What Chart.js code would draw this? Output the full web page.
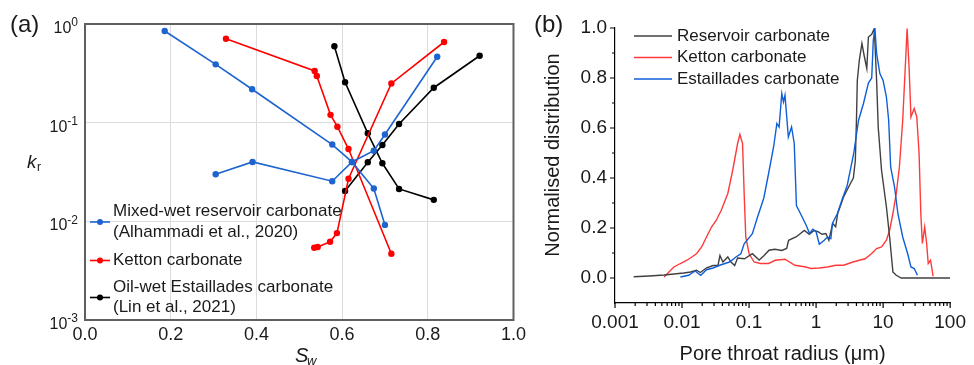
<!DOCTYPE html>
<html><head><meta charset="utf-8">
<script src="https://cdn.jsdelivr.net/npm/chart.js@4.4.0/dist/chart.umd.min.js"></script>
<style>
html,body{margin:0;padding:0;background:#fff;}
#wrap{position:relative;width:974px;height:365px;overflow:hidden;background:#fff;}
#ca{position:absolute;left:0;top:0;}
#cb{position:absolute;left:530px;top:0;}
</style></head><body>
<div id="wrap"><canvas id="ca" width="530" height="365"></canvas><canvas id="cb" width="444" height="365"></canvas></div>
<script>
// ---------------- Panel (a): relative permeability ----------------
const swMixedDrain = [0.186, 0.305, 0.390, 0.577, 0.623, 0.674, 0.700];
const krMixedDrain = [0.85, 0.39, 0.218, 0.060, 0.040, 0.0215, 0.0092];
const swMixedImb   = [0.305, 0.391, 0.577, 0.623, 0.674, 0.700, 0.822];
const krMixedImb   = [0.030, 0.040, 0.0255, 0.040, 0.052, 0.076, 0.466];

const swKettonDrain = [0.329, 0.536, 0.541, 0.573, 0.589, 0.615, 0.715];
const krKettonDrain = [0.71, 0.334, 0.297, 0.12, 0.091, 0.054, 0.0047];
const swKettonImb   = [0.535, 0.543, 0.572, 0.588, 0.615, 0.715, 0.838];
const krKettonImb   = [0.0054, 0.0055, 0.0062, 0.0076, 0.027, 0.25, 0.657];

const swEstDrain = [0.582, 0.607, 0.660, 0.694, 0.733, 0.814];
const krEstDrain = [0.594, 0.257, 0.078, 0.0388, 0.0213, 0.0165];
const swEstImb   = [0.607, 0.660, 0.694, 0.733, 0.814, 0.921];
const krEstImb   = [0.0203, 0.0397, 0.0594, 0.097, 0.226, 0.477];

const legendA = [
  ['Mixed-wet reservoir carbonate', '(Alhammadi et al., 2020)'],
  ['Ketton carbonate'],
  ['Oil-wet Estaillades carbonate', '(Lin et al., 2021)']
];
const yExpA = [0, -1, -2, -3];

// ---------------- Panel (b): pore throat distribution ----------------
const seriesNamesB = ['Reservoir carbonate', 'Ketton carbonate', 'Estaillades carbonate'];
const xTickValsB = [0.001, 0.01, 0.1, 1, 10, 100];
const xTickLabelsB = ['0.001', '0.01', '0.1', '1', '10', '100'];
const yTickValsB = [0.0, 0.2, 0.4, 0.6, 0.8, 1.0];

const radiusReservoir = [0.0019,0.00325,0.0054,0.00755,0.01057,0.0134,0.0164,0.01875,0.023,0.029,0.0344,0.0368,0.0407,0.0482,0.0533,0.061,0.0675,0.0855,0.112,0.1416,0.1675,0.1986,0.2427,0.3076,0.364,0.389,0.509,0.668,0.791,0.935,1.07,1.225,1.40,1.55,1.77,1.96,2.10,2.57,3.25,3.60,3.85,4.0,4.12,4.41,4.83,5.21,5.71,6.03,6.76,7.38,8.0,8.45,9.47,11.2,12.5,14.0,15.7,18.6,100];
const distReservoir = [0.005,0.008,0.012,0.016,0.020,0.024,0.031,0.022,0.040,0.050,0.050,0.090,0.064,0.084,0.065,0.050,0.080,0.077,0.097,0.072,0.090,0.111,0.115,0.110,0.118,0.151,0.165,0.190,0.175,0.190,0.185,0.175,0.178,0.151,0.218,0.205,0.258,0.324,0.378,0.40,0.47,0.63,0.79,0.87,0.938,0.89,0.838,0.964,0.975,0.998,0.79,0.604,0.431,0.284,0.164,0.024,0.011,0.0,0.0];

const radiusKetton = [0.0054,0.00755,0.00946,0.01183,0.014,0.01656,0.0196,0.0232,0.0275,0.0325,0.0385,0.0482,0.057,0.0675,0.073,0.080,0.0845,0.0893,0.100,0.1186,0.148,0.1963,0.2455,0.3436,0.482,0.668,0.845,1.107,1.483,1.96,2.59,3.37,4.26,5.40,6.76,8.0,9.47,11.2,12.5,14.0,15.7,17.5,19.6,21.3,22.8,24.5,26.0,29.1,31.8,34.4,36.5,38.5,41.7,44.6,47.1,51.0,55.7];
const distKetton = [0.004,0.044,0.058,0.071,0.084,0.098,0.124,0.164,0.204,0.231,0.271,0.338,0.431,0.538,0.574,0.538,0.338,0.164,0.098,0.064,0.058,0.058,0.071,0.075,0.051,0.045,0.038,0.040,0.044,0.051,0.051,0.062,0.070,0.077,0.098,0.118,0.124,0.151,0.191,0.258,0.338,0.444,0.631,0.831,0.998,0.831,0.644,0.678,0.644,0.498,0.258,0.138,0.204,0.138,0.058,0.071,0.007];

const radiusEstaillades = [0.00946,0.01253,0.0157,0.019,0.0232,0.029,0.0365,0.0511,0.0637,0.0755,0.0845,0.112,0.1324,0.166,0.1963,0.2323,0.26,0.2806,0.3076,0.326,0.3436,0.3855,0.4305,0.472,0.509,0.604,0.7145,0.798,0.895,1.0,1.117,1.324,1.483,1.66,1.755,2.08,2.46,2.91,3.64,4.30,5.09,6.03,6.76,7.13,7.55,8.0,8.94,10.0,11.2,12.1,12.95,14.8,16.6,19.6,23.2,26.0,29.1,32.5];
const distEstaillades = [0.004,0.011,0.028,0.011,0.033,0.040,0.051,0.064,0.084,0.097,0.137,0.177,0.24,0.32,0.42,0.524,0.618,0.604,0.738,0.704,0.731,0.564,0.604,0.538,0.29,0.25,0.21,0.178,0.195,0.185,0.135,0.151,0.164,0.157,0.218,0.258,0.316,0.37,0.498,0.631,0.698,0.78,0.80,0.95,0.998,0.898,0.818,0.79,0.724,0.631,0.444,0.364,0.258,0.164,0.098,0.044,0.038,0.011];

// ---------------- common ----------------
const F = "'Liberation Sans', Arial, Helvetica, sans-serif";
Chart.defaults.font.family = F;
Chart.defaults.color = '#1a1a1a';
const pts = (xs, ys) => xs.map((x, i) => ({x: x, y: ys[i]}));

const blueA = '#1d64cf', redA = '#ff0000', blackA = '#000000';

function dsA(xs, ys, c) {
  return {data: pts(xs, ys), borderColor: c, backgroundColor: c, borderWidth: 1.6,
    pointRadius: 3.2, pointHoverRadius: 3.2, pointBorderWidth: 0, showLine: true, tension: 0, fill: false};
}

const decorA = {
  id: 'decorA',
  afterDraw(chart) {
    const {ctx, chartArea: ca, scales: {y}} = chart;
    ctx.save();
    ctx.strokeStyle = '#606060'; ctx.lineWidth = 2;
    ctx.strokeRect(ca.left, ca.top, ca.right - ca.left, ca.bottom - ca.top);
    // y tick labels 10^n
    ctx.fillStyle = '#1a1a1a'; ctx.textBaseline = 'middle'; ctx.textAlign = 'left';
    yExpA.forEach(e => {
      const py = y.getPixelForValue(Math.pow(10, e));
      const es = e === 0 ? '0' : '-' + (-e);
      ctx.font = '12px ' + F; const ew = ctx.measureText(es).width;
      ctx.font = '16px ' + F; const bw = ctx.measureText('10').width;
      const right = ca.left - 7;
      ctx.fillText('10', right - ew - bw, py + 4.5);
      ctx.font = '12px ' + F;
      ctx.fillText(es, right - ew, py - 1);
    });
    // axis titles
    ctx.textBaseline = 'alphabetic';
    ctx.font = 'italic 19px ' + F; ctx.fillText('k', 27, 168);
    ctx.font = '12px ' + F; ctx.fillText('r', 37, 171);
    ctx.font = 'italic 20px ' + F; ctx.fillText('S', 295, 362);
    ctx.font = 'italic 13px ' + F; ctx.fillText('w', 307, 364.5);
    // panel label
    ctx.font = '24px ' + F; ctx.textBaseline = 'middle';
    ctx.fillText('(a)', 10, 25);
    // legend
    const cols = [blueA, redA, blackA];
    const centers = [222, 260.5, 297.5];
    const lh = 20.5;
    ctx.font = '17px ' + F;
    legendA.forEach((lines, i) => {
      const cy = centers[i];
      ctx.strokeStyle = cols[i]; ctx.fillStyle = cols[i]; ctx.lineWidth = 1.6;
      ctx.beginPath(); ctx.moveTo(ca.left + 5, cy); ctx.lineTo(ca.left + 25, cy); ctx.stroke();
      ctx.beginPath(); ctx.arc(ca.left + 15, cy, 3, 0, Math.PI * 2); ctx.fill();
      ctx.fillStyle = '#1a1a1a';
      lines.forEach((t, j) => {
        ctx.fillText(t, ca.left + 28, cy - (lines.length - 1) * lh / 2 + j * lh);
      });
    });
    ctx.restore();
  }
};

new Chart(document.getElementById('ca'), {
  type: 'scatter',
  data: {datasets: [
    dsA(swMixedDrain, krMixedDrain, blueA), dsA(swMixedImb, krMixedImb, blueA),
    dsA(swKettonDrain, krKettonDrain, redA), dsA(swKettonImb, krKettonImb, redA),
    dsA(swEstDrain, krEstDrain, blackA), dsA(swEstImb, krEstImb, blackA)
  ]},
  options: {
    responsive: false, animation: false, events: [], devicePixelRatio: 1,
    layout: {padding: {top: 24, right: 13, left: 0, bottom: 0}},
    plugins: {legend: {display: false}, tooltip: {enabled: false}},
    scales: {
      x: {type: 'linear', min: 0, max: 1,
        afterFit: s => { s.height = 45; },
        ticks: {stepSize: 0.2, callback: v => Number(v).toFixed(1), font: {size: 18}, color: '#1a1a1a', padding: 4, maxRotation: 0, autoSkip: false},
        grid: {color: '#dcdcdc', lineWidth: 1, drawTicks: false},
        border: {display: false}},
      y: {type: 'logarithmic', min: 0.001, max: 1,
        afterFit: s => { s.width = 85; },
        afterBuildTicks: s => { s.ticks = yExpA.slice().reverse().map(e => ({value: Math.pow(10, e)})); },
        ticks: {display: false},
        grid: {color: '#dcdcdc', lineWidth: 1, drawTicks: false},
        border: {display: false}}
    }
  },
  plugins: [decorA]
});

// ---------------- Panel (b) chart ----------------
const colReservoir = '#404040', colKetton = '#ff3a3a', colEst = '#0f5fd8';
function dsB(xs, ys, c) {
  return {data: pts(xs, ys), borderColor: c, backgroundColor: c, borderWidth: 1.4,
    pointRadius: 0, pointHoverRadius: 0, showLine: true, tension: 0, fill: false};
}

const decorB = {
  id: 'decorB',
  afterDraw(chart) {
    const {ctx, chartArea: ca, scales: {x, y}} = chart;
    ctx.save();
    ctx.strokeStyle = '#000'; ctx.lineWidth = 1.2;
    ctx.beginPath();
    for (let n = -3; n <= 2; n++) {
      const px = x.getPixelForValue(Math.pow(10, n));
      ctx.moveTo(px, ca.bottom); ctx.lineTo(px, ca.bottom + 5);
      if (n < 2) {
        for (let k = 2; k <= 9; k++) {
          const qx = x.getPixelForValue(k * Math.pow(10, n));
          ctx.moveTo(qx, ca.bottom); ctx.lineTo(qx, ca.bottom + 3);
        }
      }
    }
    for (let i = 0; i <= 10; i++) {
      const py = y.getPixelForValue(i / 10);
      const len = (i % 2 === 0) ? 5 : 3;
      ctx.moveTo(ca.left, py); ctx.lineTo(ca.left - len, py);
    }
    ctx.stroke();
    // titles
    ctx.fillStyle = '#1a1a1a';
    ctx.font = '20px ' + F; ctx.textAlign = 'center'; ctx.textBaseline = 'middle';
    ctx.fillText('Pore throat radius (\u03bcm)', (ca.left + ca.right) / 2, 354);
    ctx.save();
    ctx.translate(23, 155); ctx.rotate(-Math.PI / 2);
    ctx.fillText('Normalised distribution', 0, 0);
    ctx.restore();
    // panel label
    ctx.textAlign = 'left';
    ctx.font = '24px ' + F; ctx.fillText('(b)', 4, 25);
    // legend
    const cols = [colReservoir, colKetton, colEst];
    const rows = [36, 57.5, 79];
    ctx.font = '17px ' + F;
    seriesNamesB.forEach((t, i) => {
      ctx.strokeStyle = cols[i]; ctx.lineWidth = 1.6;
      ctx.beginPath(); ctx.moveTo(104, rows[i]); ctx.lineTo(142, rows[i]); ctx.stroke();
      ctx.fillStyle = '#1a1a1a';
      ctx.fillText(t, 147, rows[i]);
    });
    ctx.restore();
  }
};

new Chart(document.getElementById('cb'), {
  type: 'scatter',
  data: {datasets: [
    dsB(radiusEstaillades, distEstaillades, colEst),
    dsB(radiusReservoir, distReservoir, colReservoir),
    dsB(radiusKetton, distKetton, colKetton)
  ]},
  options: {
    responsive: false, animation: false, events: [], devicePixelRatio: 1,
    layout: {padding: {top: 28, right: 17, left: 0, bottom: 0}},
    plugins: {legend: {display: false}, tooltip: {enabled: false}},
    scales: {
      x: {type: 'logarithmic', min: 0.001, max: 100,
        afterFit: s => { s.height = 62; },
        afterBuildTicks: s => { s.ticks = xTickValsB.map(v => ({value: v})); },
        ticks: {callback: (v, i) => xTickLabelsB[i], font: {size: 19}, color: '#1a1a1a', padding: 8, maxRotation: 0, autoSkip: false},
        grid: {display: false, drawTicks: false, tickLength: 0},
        border: {display: true, color: '#000', width: 1.2}},
      y: {type: 'linear', min: -0.1, max: 1.0,
        afterFit: s => { s.width = 85; },
        afterBuildTicks: s => { s.ticks = yTickValsB.map(v => ({value: v})); },
        ticks: {callback: v => Number(v).toFixed(1), font: {size: 19}, color: '#1a1a1a', padding: 8, autoSkip: false},
        grid: {display: false, drawTicks: false, tickLength: 0},
        border: {display: true, color: '#000', width: 1.2}}
    }
  },
  plugins: [decorB]
});
</script>
</body></html>
